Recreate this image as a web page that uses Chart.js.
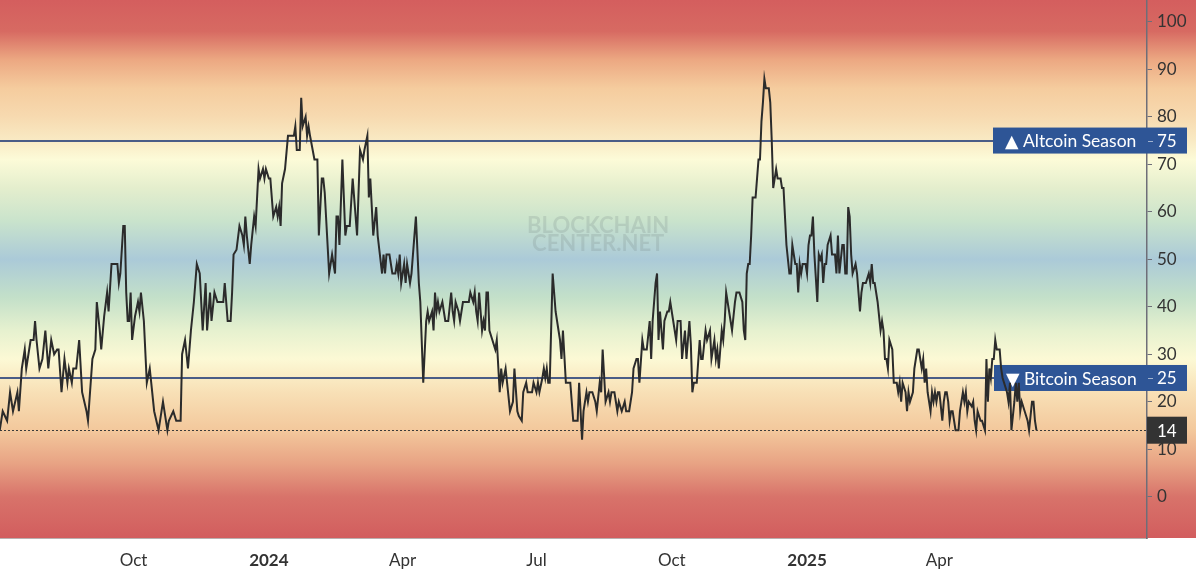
<!DOCTYPE html>
<html><head><meta charset="utf-8">
<script src="https://cdn.jsdelivr.net/npm/chart.js@4.4.0/dist/chart.umd.min.js"></script>
<style>html,body{margin:0;padding:0;background:#fff;overflow:hidden}#c{display:block}</style>
</head><body>
<canvas id="c" width="1199" height="578"></canvas>
<script>
// Altcoin Season Index — days counted from 2023-07-01
const startDate = '2023-07-01';
const days = [
1,3,6,8,10,13,14,16,18,19,22,24,25,26,28,30,32,34,36,38,40,41,43,45,47,48,50,51,53,55,57,60,61,64,66,67,69,70,72,74,75,77,79,81,82,83,85,86,87,88,89,90,91,93,95,96,97,99,101,103,104,106,109,112,115,116,119,121,124,125,127,129,131,133,135,137,
139,141,142,144,145,147,149,151,153,154,156,158,159,160,162,164,166,167,168,169,171,172,174,175,177,178,180,181,182,184,185,187,189,190,191,192,193,195,197,201,202,203,205,206,207,209,210,211,212,215,217,218,220,221,222,225,227,229,230,231,232,234,236,237,239,241,244,246,248,249,251,252,253,255,257,258,261,262,263,264,266,
268,270,271,272,273,274,276,277,278,280,281,284,286,287,289,291,292,293,295,296,297,298,299,300,302,303,304,306,308,309,310,311,313,314,316,318,320,321,323,324,325,326,327,329,330,331,332,333,334,336,338,339,341,342,343,345,346,348,350,351,353,354,356,357,359,360,363,364,366,367,368,370,371,372,373,374,375,377,379,381,382,383,384,386,389,
391,394,395,397,398,400,401,402,404,406,407,409,410,411,413,415,416,417,419,421,422,424,426,427,429,431,432,434,435,436,438,439,441,443,444,445,447,448,449,450,451,452,453,455,456,457,459,461,462,464,465,467,468,470,471,472,473,475,477,478,479,481,482,484,485,487,488,489,490,492,493,494,495,497,498,499,501,502,504,506,507,508,509,510,511,512,513,515,517,518,519,520,521,522,524,525,
526,527,528,529,530,532,533,534,536,538,539,540,542,543,544,545,546,547,549,550,551,552,553,554,555,557,558,559,560,561,562,563,564,566,567,569,570,571,572,574,575,576,577,578,579,580,581,583,584,586,587,588,590,592,593,594,595,596,598,600,601,602,603,604,605,606,608,609,611,612,613,614,615,617,618,619,620,622,623,625,626,628,629,630,631,632,634,635,636,637,638,639,640,642,643,644,645,646,647,648,649,651,653,
654,656,657,658,659,660,662,663,664,665,666,668,669,671,672,673,674,675,676,677,678,679,681,682,683,686,687,688,689,691,692,693,694,695,696,697,698,700,701,703,704,705,706
];
const values = [
14,18,16,22,18,22,18,27,31,27,33,33,37,33,27,29,35,27,33,30,31,31,22,29,24,27,24,27,27,33,22,18,16,29,31,41,35,31,38,43,39,49,49,49,45,47,57,57,43,37,37,43,33,38,41,39,43,37,24,27,24,18,14,20,14,16,18,16,16,30,33,27,35,41,49,47,
35,45,35,43,37,43,41,41,41,45,37,37,43,51,52,57,55,53,59,55,49,53,59,57,69,67,69,67,69,67,67,59,61,59,61,57,66,69,76,76,78,73,73,84,78,80,76,78,76,71,71,55,67,67,64,47,51,47,59,59,53,71,55,57,57,67,55,73,71,73,76,63,67,55,61,55,47,51,47,51,51,
47,47,49,47,51,45,49,45,49,45,47,59,45,41,24,37,39,37,39,35,43,39,41,39,41,39,37,37,43,39,37,41,39,37,41,41,41,43,41,43,39,37,43,35,37,35,43,43,35,33,31,33,22,27,24,27,24,18,20,27,18,17,16,22,24,22,22,24,22,24,22,25,27,25,27,24,24,47,39,35,33,29,35,24,24,
16,16,24,12,18,22,20,22,22,20,18,24,22,31,20,22,20,22,22,18,20,18,20,18,18,22,27,29,29,24,33,31,31,37,29,37,45,47,33,39,35,31,37,39,39,41,37,33,37,37,29,35,29,37,32,22,24,24,33,29,29,35,33,35,29,33,29,31,27,35,33,37,43,39,37,35,41,43,43,41,35,33,47,49,49,55,63,63,71,71,79,83,88,86,86,83,
75,65,67,69,67,67,65,65,53,47,47,53,49,49,43,49,47,49,49,47,53,55,55,59,51,41,51,50,51,45,49,49,53,55,51,51,47,55,47,53,53,47,47,61,59,51,47,49,47,39,43,45,45,47,45,49,45,45,41,35,37,35,29,29,27,33,31,24,24,22,24,20,24,22,18,22,20,22,27,31,31,27,29,24,27,22,18,22,20,22,20,22,22,16,20,22,22,20,16,18,18,14,14,
18,22,20,22,18,20,19,20,16,14,18,16,16,14,29,20,27,25,29,29,33,31,31,27,25,22,20,24,14,20,24,20,24,18,20,19,18,16,14,20,20,16,14
];
const tickDays = [92,184,275,366,458,550,640];
const tickLabels = ['Oct','2024','Apr','Jul','Oct','2025','Apr'];
const yearTick = [false,true,false,false,false,true,false];
const yTicks = [0,10,20,30,40,50,60,70,80,90,100];
const altcoinLevel = 75, bitcoinLevel = 25;
const altLabel = '\u25B2 Altcoin Season', btcLabel = '\u25BC Bitcoin Season';
const watermark = ['BLOCKCHAIN','CENTER.NET'];
const bgValues = [104.6, 98, 92, 86, 80, 75, 71, 65, 58, 50, 42, 35, 29, 22, 14, 7, 0, -8.7];
const bgColors = ['#d45e5e','#d76a62','#eca882','#f5cc9e','#f7dab0','#f9eac4','#fcfbd8','#e4eecd','#c9e3cc','#abcad8','#c3e0c9','#e6f1cf','#fcf9d5','#f8e0b6','#f3c89c','#e8a384','#d8736a','#d25d5e'];

const FONT = "Lato, 'DejaVu Sans', sans-serif";
const lastValue = values[values.length - 1];

const deco = {
  id: 'deco',
  beforeDraw(chart) {
    const {ctx, chartArea: a, scales: {y}} = chart;
    const g = ctx.createLinearGradient(0, a.top, 0, a.bottom);
    bgValues.forEach((v, i) => {
      let t = (y.getPixelForValue(v) - a.top) / (a.bottom - a.top);
      g.addColorStop(Math.min(1, Math.max(0, t)), bgColors[i]);
    });
    ctx.save();
    ctx.fillStyle = g;
    ctx.fillRect(a.left, a.top, chart.width - 3 - a.left, a.bottom - a.top);
    ctx.restore();
  },
  beforeDatasetsDraw(chart) {
    const {ctx, chartArea: a, scales: {y}} = chart;
    const boxRight = chart.width - 12;
    const labelX = a.right + 10;
    ctx.save();
    // watermark
    ctx.fillStyle = 'rgba(110,125,125,0.2)';
    ctx.font = "bold 22px " + FONT;
    ctx.textAlign = 'center';
    ctx.textBaseline = 'middle';
    const cx = a.left + (a.right - a.left) * 0.5215;
    ctx.fillText(watermark[0], cx, 226);
    ctx.fillText(watermark[1], cx, 244);
    // level lines
    ctx.strokeStyle = '#4a5c86';
    ctx.lineWidth = 2;
    [altcoinLevel, bitcoinLevel].forEach(v => {
      const py = Math.round(y.getPixelForValue(v));
      ctx.beginPath(); ctx.moveTo(a.left, py); ctx.lineTo(a.right, py); ctx.stroke();
    });
    // last value dotted line
    const ly = Math.round(y.getPixelForValue(lastValue)) + 0.5;
    ctx.strokeStyle = '#3a3a3a';
    ctx.lineWidth = 1;
    ctx.setLineDash([2, 2]);
    ctx.beginPath(); ctx.moveTo(a.left, ly); ctx.lineTo(a.right, ly); ctx.stroke();
    ctx.setLineDash([]);
    // boxes
    const box = (v, text, left) => {
      const py = y.getPixelForValue(v);
      ctx.fillStyle = '#2e5596';
      ctx.fillRect(left, py - 13, boxRight - left, 26);
      ctx.fillStyle = '#ffffff';
      ctx.font = "17.5px " + FONT;
      ctx.textAlign = 'left';
      ctx.textBaseline = 'middle';
      ctx.fillText(text, left + 12, py + 1);
      ctx.font = "17px " + FONT;
      ctx.fillText(String(v), labelX, py + 1);
      ctx.strokeStyle = 'rgba(255,255,255,0.55)';
      ctx.lineWidth = 1;
      ctx.beginPath(); ctx.moveTo(a.right + 1, Math.round(py) + 0.5); ctx.lineTo(a.right + 6, Math.round(py) + 0.5); ctx.stroke();
    };
    box(altcoinLevel, altLabel, a.right - 154);
    box(bitcoinLevel, btcLabel, a.right - 153);
    // last value box
    const vy = y.getPixelForValue(lastValue);
    ctx.fillStyle = '#333333';
    ctx.fillRect(a.right, vy - 13.5, boxRight - a.right, 27);
    ctx.fillStyle = '#ffffff';
    ctx.font = "17px " + FONT;
    ctx.textAlign = 'left';
    ctx.textBaseline = 'middle';
    ctx.fillText(String(lastValue), labelX, vy + 1);
    ctx.restore();
  }
};

new Chart(document.getElementById('c'), {
  type: 'line',
  data: {
    datasets: [{
      data: days.map((d, i) => ({x: d, y: values[i]})),
      borderColor: '#2b2b2b',
      borderWidth: 2,
      pointRadius: 0,
      tension: 0,
      fill: false
    }]
  },
  options: {
    responsive: false,
    animation: false,
    devicePixelRatio: 1,
    layout: {padding: 0},
    plugins: {legend: {display: false}, tooltip: {enabled: false}},
    scales: {
      x: {
        type: 'linear',
        min: 1.16,
        max: 781.2,
        afterBuildTicks: s => { s.ticks = tickDays.map(v => ({value: v})); },
        afterFit: s => { s.height = 40; s.paddingLeft = 0; s.paddingRight = 0; },
        grid: {display: false, drawTicks: false},
        border: {display: true, color: 'rgba(130,110,110,0.55)', width: 1},
        ticks: {
          autoSkip: false, maxRotation: 0, padding: 12, color: '#333',
          font: c => ({family: FONT, size: 17, weight: yearTick[c.index] ? 'bold' : 'normal'}),
          callback: (v, i) => tickLabels[i]
        }
      },
      y: {
        position: 'right',
        min: -8.7,
        max: 104.6,
        afterBuildTicks: s => { s.ticks = yTicks.map(v => ({value: v})); },
        afterFit: s => { s.width = 52; s.paddingTop = 0; s.paddingBottom = 0; },
        grid: {drawOnChartArea: false, drawTicks: true, tickLength: 5, color: '#6e6e78'},
        border: {display: true, color: '#6e6e78', width: 1.5},
        ticks: {padding: 5, color: '#333', font: {family: FONT, size: 17}}
      }
    }
  },
  plugins: [deco]
});
</script>
</body></html>
